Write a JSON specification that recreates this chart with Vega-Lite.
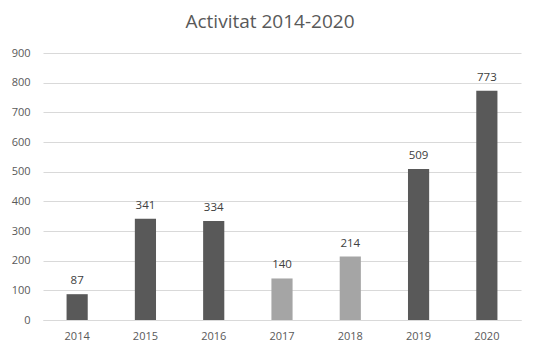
{
  "$schema": "https://vega.github.io/schema/vega-lite/v6.json",
  "autosize": "none",
  "width": 478,
  "height": 267,
  "padding": {"left": 43, "top": 53, "right": 19, "bottom": 37},
  "background": "white",
  "title": {"text": "Activitat 2014-2020", "fontSize": 19, "font": "Open Sans", "fontWeight": "normal", "color": "#595959", "anchor": "middle", "offset": 15, "dx": -12},
  "data": {"values": [
    {"year": "2014", "value": 87, "group": "a"},
    {"year": "2015", "value": 341, "group": "a"},
    {"year": "2016", "value": 334, "group": "a"},
    {"year": "2017", "value": 140, "group": "b"},
    {"year": "2018", "value": 214, "group": "b"},
    {"year": "2019", "value": 509, "group": "a"},
    {"year": "2020", "value": 773, "group": "a"}
  ]},
  "encoding": {
    "x": {"field": "year", "type": "ordinal", "title": null, "scale": {"paddingInner": 0.69, "paddingOuter": 0.345},
      "axis": {"labelAngle": 0, "ticks": false, "domainColor": "#d9d9d9", "labelColor": "#595959", "labelFont": "Open Sans", "labelFontSize": 11, "labelPadding": 10}},
    "y": {"field": "value", "type": "quantitative", "title": null, "scale": {"domain": [0, 900], "nice": false},
      "axis": {"values": [0,100,200,300,400,500,600,700,800,900], "domain": false, "ticks": false, "gridColor": "#d9d9d9", "labelColor": "#595959", "labelFont": "Open Sans", "labelFontSize": 11, "labelPadding": 13}}
  },
  "layer": [
    {"mark": {"type": "bar"},
     "encoding": {"color": {"field": "group", "type": "nominal", "legend": null, "scale": {"domain": ["a", "b"], "range": ["#595959", "#a5a5a5"]}}}},
    {"mark": {"type": "text", "dy": -13, "font": "Open Sans", "fontSize": 11.5, "color": "#404040"},
     "encoding": {"text": {"field": "value", "type": "quantitative"}}}
  ],
  "config": {"view": {"stroke": null}}
}
